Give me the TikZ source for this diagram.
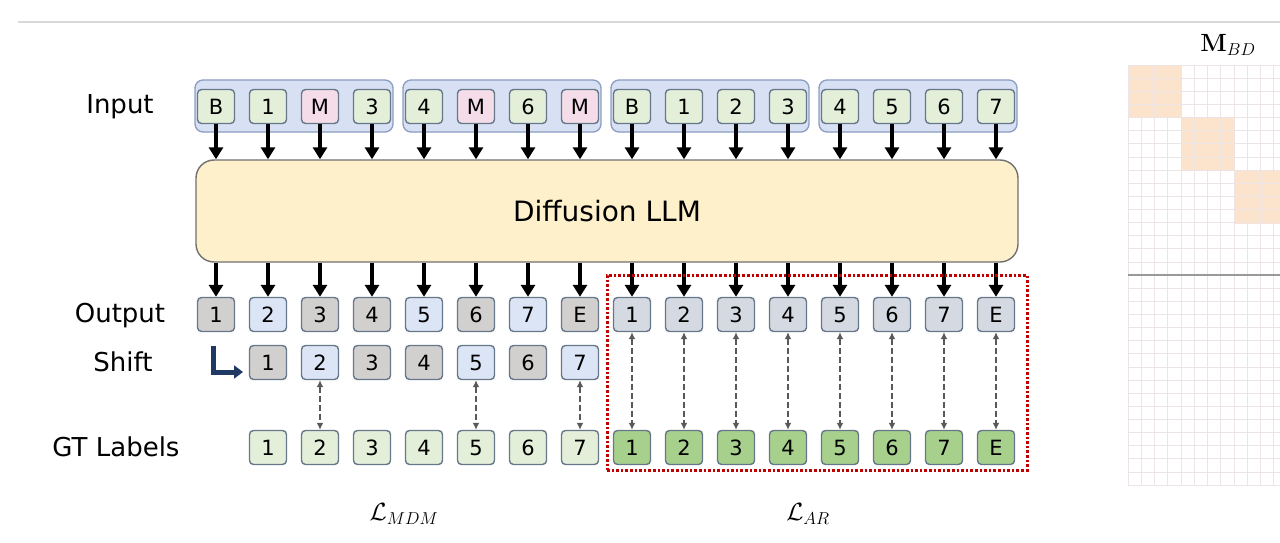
\documentclass[tikz,border=0pt]{standalone}
\usepackage[no-math]{fontspec}
\setmainfont{DejaVu Sans}
\usetikzlibrary{arrows.meta}
\definecolor{tokborder}{HTML}{66778A}
\definecolor{ingreen}{HTML}{E4EFDA}
\definecolor{mpink}{HTML}{F4DDE9}
\definecolor{grpfill}{HTML}{D8E1F4}
\definecolor{grpdraw}{HTML}{8A9CC2}
\definecolor{outgray}{HTML}{D2CFCF}
\definecolor{outblue}{HTML}{DCE5F5}
\definecolor{outgrayR}{HTML}{D5D9E2}
\definecolor{gtlight}{HTML}{E3EFD9}
\definecolor{gtgreen}{HTML}{A8D08D}
\definecolor{llmfill}{HTML}{FDF0CB}
\definecolor{llmdraw}{HTML}{707070}
\definecolor{reddot}{HTML}{C00000}
\definecolor{navyc}{HTML}{203864}
\definecolor{peach}{HTML}{FBE3CC}
\definecolor{gridc}{HTML}{EDE5E5}
\definecolor{dgray}{HTML}{595959}
\begin{document}
\begin{tikzpicture}[x=1pt,y=-1pt,
  tok/.style={draw=tokborder, line width=1.4pt, rounded corners=4pt, minimum width=37pt, minimum height=34pt, inner sep=0pt, font=\fontsize{21}{21}\selectfont},
  grp/.style={draw=grpdraw, fill=grpfill, line width=1.3pt, rounded corners=8pt, minimum width=198pt, minimum height=52pt, inner sep=0pt},
  rowlab/.style={font=\fontsize{26}{26}\selectfont, inner sep=0pt},
  blk/.style={line width=3.2pt, -{Triangle[length=12pt,width=14pt]}},
  dsh/.style={draw=dgray, line width=2pt, dash pattern=on 6pt off 3pt, {Latex[length=7pt,width=7pt]}-{Latex[length=7pt,width=7pt]}}
]
\useasboundingbox (0,0) rectangle (1280,543);
% top rule
\coordinate (ruleL) at (18,22);
\coordinate (ruleR) at (1280,22);
\draw[black!15, line width=2.5pt] (ruleL) -- (ruleR);

% input groups
\node[grp] (g1) at (294,106) {};
\node[grp] (g2) at (502,106) {};
\node[grp] (g3) at (710,106) {};
\node[grp] (g4) at (918,106) {};

% input tokens
\foreach \i/\t/\c in {1/B/ingreen, 2/1/ingreen, 3/M/mpink, 4/3/ingreen, 5/4/ingreen, 6/M/mpink, 7/6/ingreen, 8/M/mpink, 9/B/ingreen, 10/1/ingreen, 11/2/ingreen, 12/3/ingreen, 13/4/ingreen, 14/5/ingreen, 15/6/ingreen, 16/7/ingreen}
  \node[tok, fill=\c] (in\i) at ({164+52*\i},106.5) {\t};

% LLM
\node[draw=llmdraw, fill=llmfill, line width=1.4pt, rounded corners=18pt, minimum width=822pt, minimum height=102pt, font=\fontsize{28}{28}\selectfont] (llm) at (607,211) {Diffusion LLM};

% output tokens
\foreach \i/\t/\c in {1/1/outgray, 2/2/outblue, 3/3/outgray, 4/4/outgray, 5/5/outblue, 6/6/outgray, 7/7/outblue, 8/E/outgray, 9/1/outgrayR, 10/2/outgrayR, 11/3/outgrayR, 12/4/outgrayR, 13/5/outgrayR, 14/6/outgrayR, 15/7/outgrayR, 16/E/outgrayR}
  \node[tok, fill=\c] (out\i) at ({164+52*\i},314.5) {\t};

% shift tokens
\foreach \i/\t/\c in {2/1/outgray, 3/2/outblue, 4/3/outgray, 5/4/outgray, 6/5/outblue, 7/6/outgray, 8/7/outblue}
  \node[tok, fill=\c] (sh\i) at ({164+52*\i},362.5) {\t};

% GT labels
\foreach \i/\t/\c in {2/1/gtlight, 3/2/gtlight, 4/3/gtlight, 5/4/gtlight, 6/5/gtlight, 7/6/gtlight, 8/7/gtlight, 9/1/gtgreen, 10/2/gtgreen, 11/3/gtgreen, 12/4/gtgreen, 13/5/gtgreen, 14/6/gtgreen, 15/7/gtgreen, 16/E/gtgreen}
  \node[tok, fill=\c] (gt\i) at ({164+52*\i},447.5) {\t};

% arrows input -> LLM -> output
\foreach \i in {1,...,16} {
  \draw[blk] (in\i.south) -- (in\i.south |- llm.north);
  \draw[blk] (out\i.north |- llm.south) -- (out\i.north);
}

% dashed correspondences
\foreach \i in {3,6,8}
  \draw[dsh] (sh\i.south) -- (gt\i.north);
\foreach \i in {9,...,16}
  \draw[dsh] (out\i.south) -- (gt\i.north);

% shift arrow
\coordinate (shA) at (213.5,346);
\coordinate (shB) at (213.5,372);
\coordinate (shC) at (243,372);
\draw[navyc, line width=5pt, -{Triangle[length=9pt,width=13pt]}] (shA) -- (shB) -- (shC);

% AR box
\node[draw=reddot, line width=3pt, dash pattern=on 2.6pt off 2pt, minimum width=420pt, minimum height=195pt, inner sep=0pt] (arbox) at (817,372.5) {};

% row labels
\node[rowlab] (lin) at (120,107) {Input};
\node[rowlab] (lout) at (120,316) {Output};
\node[rowlab] (lsh) at (123,362) {Shift};
\node[rowlab] (lgt) at (116,447) {GT Labels};

% loss labels
\node[font=\fontsize{25}{25}\selectfont] (lmdm) at (404,514) {$\mathcal{L}_{MDM}$};
\node[font=\fontsize{25}{25}\selectfont] (lar) at (808,514) {$\mathcal{L}_{AR}$};

% mask matrix
\fill[peach] (1128,65) rectangle (1181,118);
\fill[peach] (1181,118) rectangle (1234,171);
\fill[peach] (1234,171) rectangle (1287,224);
\foreach \k in {0,...,12}
  \draw[gridc, line width=0.7pt] ({1128+13.25*\k},65) -- ({1128+13.25*\k},485);
\foreach \k in {0,...,32}
  \draw[gridc, line width=0.7pt] (1128,{65+13.125*\k}) -- (1280,{65+13.125*\k});
\draw[black!40, line width=1.3pt] (1128,275) -- (1280,275);
\node[font=\fontsize{24}{24}\selectfont] (mbd) at (1228,45) {$\mathbf{M}_{BD}$};
\end{tikzpicture}
\end{document}
